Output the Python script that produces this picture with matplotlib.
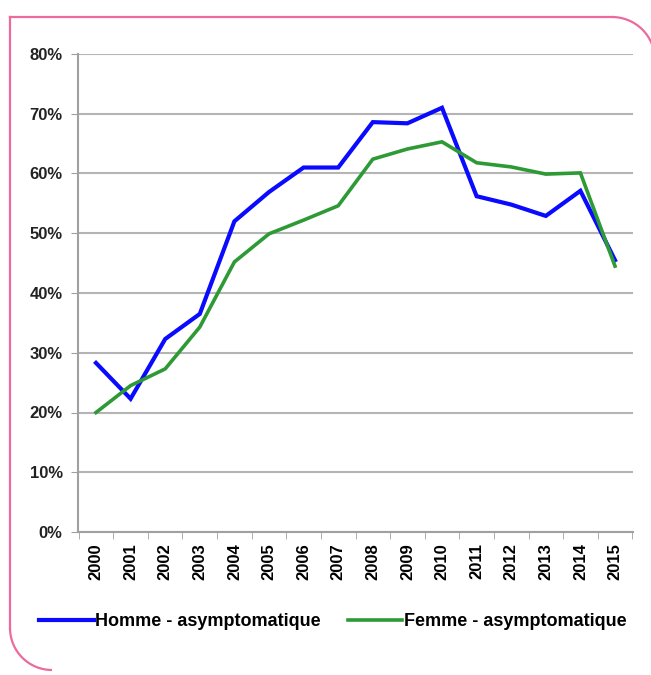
import matplotlib
matplotlib.use("Agg")
import matplotlib.pyplot as plt
import numpy as np
from matplotlib.patches import Arc

# data
years = list(range(2000, 2016))
homme = [28.3, 22.3, 32.3, 36.5, 52.0, 56.9, 61.0, 61.0, 68.6, 68.4, 71.0,
         56.2, 54.8, 52.9, 57.1, 45.5]
femme = [20.0, 24.5, 27.3, 34.3, 45.2, 49.9, 52.2, 54.6, 62.4, 64.1, 65.3,
         61.8, 61.1, 59.9, 60.1, 44.5]
y_ticks = [0, 10, 20, 30, 40, 50, 60, 70, 80]

plt.rcParams['font.family'] = ['Liberation Sans Narrow', 'Liberation Sans', 'DejaVu Sans']

W, H = 651, 675
fig = plt.figure(figsize=(W / 100, H / 100), dpi=100)

# pink rounded frame, drawn in pixel coords
bg = fig.add_axes([0, 0, 1, 1])
bg.set_xlim(0, W)
bg.set_ylim(H, 0)
bg.axis('off')
pink = '#ec6a9e'
bg.plot([10, 612], [17, 17], color=pink, lw=1.6)
bg.plot([10, 10], [17, 628], color=pink, lw=1.6)
bg.add_patch(Arc((612, 60), 86, 86, theta1=270, theta2=360, color=pink, lw=1.6))
bg.add_patch(Arc((52, 628), 84, 84, theta1=90, theta2=180, color=pink, lw=1.6))

ax = fig.add_axes([78 / W, 1 - 532 / H, (633 - 78) / W, (532 - 54) / H])
ax.plot(years, homme, color='#0a0aff', lw=3, solid_joinstyle='miter',
        label='Homme - asymptomatique')
ax.plot(years, femme, color='#2e9a35', lw=2.6, solid_joinstyle='miter',
        label='Femme - asymptomatique')

ax.set_ylim(0, 80)
ax.set_xlim(years[0] - 0.52, years[-1] + 0.52)
ax.set_yticks(y_ticks)
ax.set_yticklabels([f"{v}%" for v in y_ticks], fontsize=12, fontweight='bold')
ax.set_xticks(years)
ax.set_xticklabels([str(y) for y in years], rotation=90, fontsize=12,
                   fontweight='bold')
ax.tick_params(axis='x', length=0, pad=8)
ax.tick_params(axis='y', length=5, color='#a0a0a0', pad=6)

# category boundaries tick marks
bounds = np.arange(years[0] - 0.5, years[-1] + 1, 1.0)
ax.set_xticks(bounds, minor=True)
ax.tick_params(axis='x', which='minor', length=5, color='#a0a0a0', direction='out')

ax.grid(axis='y', color='#b4b4b4', lw=1.5)
ax.set_axisbelow(True)
for s in ['top', 'right']:
    ax.spines[s].set_visible(False)
ax.spines['left'].set_color('#a0a0a0')
ax.spines['left'].set_linewidth(1.5)
ax.spines['bottom'].set_color('#a0a0a0')
ax.spines['bottom'].set_linewidth(1.5)
for lbl in ax.get_yticklabels():
    lbl.set_color('#222222')

fig.legend(loc='center', bbox_to_anchor=(333 / W, 1 - 622 / H), ncol=2,
           frameon=False, prop={'size': 13, 'weight': 'bold'},
           handlelength=3.0, handletextpad=0.1, columnspacing=1.5)

fig.savefig('out.png', dpi=100)
